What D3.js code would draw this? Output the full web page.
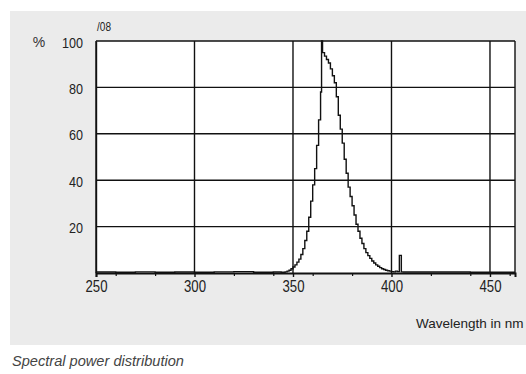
<!DOCTYPE html>
<html><head><meta charset="utf-8">
<script src="https://cdn.jsdelivr.net/npm/d3@7"></script>
<style>
html,body{margin:0;padding:0;background:#fff;}
svg{display:block;}
</style></head>
<body>
<svg id="chart" width="526" height="374"></svg>
<script>
// ---- data ----
const wavelengths = [250,260,270,280,290,300,310,320,330,340,344,
  345,346,347,348,349,350,351,352,353,354,355,356,357,358,359,360,361,362,363,364,364.5,
  365,366,367,368,369,370,371,372,373,374,375,376,377,378,379,380,381,382,383,384,385,
  386,387,388,389,390,391,392,393,394,395,396,397,398,399,400,401,402,403,404,405,406,420,440,462.7];
const intensity = [0.4,0.3,0.5,0.3,0.4,0.3,0.5,0.6,0.3,0.4,0.3,
  0.3,0.5,0.8,1.2,1.8,2.6,3.5,4.7,6.0,8.0,10.5,14,18,24,31,38,45,55,66,78,100,
  95,93.5,92,90.5,88,85,82,76,68,62,56,49,43,37,33,29,25,21,18,15,12.7,
  10.5,8.8,7.5,6.3,5.2,4.3,3.5,2.9,2.3,1.8,1.5,1.2,1.0,0.8,0.6,0.5,0.8,0.6,7.6,0.5,0.4,0.4,0.3,0.3];
const xTicks = [250,300,350,400,450];
const xMinorTicks = [260,280,320,340,360,380,420,440,460];
const yTicks = [20,40,60,80,100];
const xDomain = [250,462.7];
const yDomain = [0,100];

(function(){
const svg = d3.select("#chart");
const pL = 96, pR = 515, pT = 41, pB = 273;
const x = d3.scaleLinear().domain(xDomain).range([pL,pR]);
const y = d3.scaleLinear().domain(yDomain).range([pB,pT]);
const font = "'Liberation Sans',Arial,sans-serif";

svg.append("rect").attr("x",10).attr("y",11).attr("width",516).attr("height",334).attr("fill","#ebebeb");
svg.append("rect").attr("x",pL).attr("y",pT).attr("width",pR-pL).attr("height",pB-pT).attr("fill","#fff");

const g = svg.append("g");
g.selectAll("line.h").data(yTicks).enter().append("line")
  .attr("x1",pL).attr("x2",pR).attr("y1",d=>y(d)).attr("y2",d=>y(d))
  .attr("stroke","#111").attr("stroke-width",1.4);
g.selectAll("line.v").data(xTicks.concat([xDomain[1]])).enter().append("line")
  .attr("x1",d=>x(d)).attr("x2",d=>x(d)).attr("y1",pT).attr("y2",pB)
  .attr("stroke","#111").attr("stroke-width",1.4);

const xAxis = d3.axisBottom(x).tickValues(xTicks).tickSize(4).tickFormat(d3.format("d"));
const ax = svg.append("g").attr("transform",`translate(0,${pB})`).call(xAxis);
ax.select(".domain").attr("stroke","#111").attr("stroke-width",2);
ax.selectAll(".tick line").attr("stroke","#111").attr("stroke-width",1.4);
ax.selectAll(".tick text").attr("font-family",font).attr("font-size",17).attr("fill","#222")
  .attr("dy","0.55em").attr("y",10).attr("textLength",22).attr("lengthAdjust","spacingAndGlyphs");
svg.append("g").attr("transform",`translate(0,${pB})`)
  .call(d3.axisBottom(x).tickValues(xMinorTicks).tickSize(3).tickFormat(""))
  .call(s=>{s.select(".domain").remove(); s.selectAll(".tick line").attr("stroke","#111").attr("stroke-width",1.2);});

const yAxis = d3.axisLeft(y).tickValues(yTicks).tickSize(0).tickPadding(13).tickFormat(d3.format("d"));
const ay = svg.append("g").attr("transform",`translate(${pL},0)`).call(yAxis);
ay.select(".domain").attr("stroke","#111").attr("stroke-width",1.4);
ay.selectAll(".tick text").attr("font-family",font).attr("font-size",15).attr("fill","#222").attr("dy","0.4em")
  .attr("textLength",d=>String(d).length*7).attr("lengthAdjust","spacingAndGlyphs");

const data = wavelengths.map((w,i)=>({w, v:intensity[i]}));
const line = d3.line().x(d=>x(d.w)).y(d=>y(d.v)).curve(d3.curveStepAfter);
svg.append("path").datum(data).attr("d",line).attr("fill","none").attr("stroke","#111").attr("stroke-width",1.4);

svg.append("text").attr("x",39).attr("y",y(100)).attr("dy","0.4em").attr("text-anchor","middle")
  .attr("font-family",font).attr("font-size",14).attr("fill","#333").text("%");
svg.append("text").attr("x",97).attr("y",31).attr("font-family",font).attr("font-size",13)
  .attr("fill","#222").attr("textLength",14).attr("lengthAdjust","spacingAndGlyphs").text("/08");
svg.append("text").attr("x",416).attr("y",328).attr("font-family",font).attr("font-size",13.5)
  .attr("fill","#222").text("Wavelength in nm");
svg.append("text").attr("x",12).attr("y",366).attr("font-family",font).attr("font-size",14)
  .attr("font-style","italic").attr("fill","#444").attr("textLength",172).attr("lengthAdjust","spacingAndGlyphs")
  .text("Spectral power distribution");
})();
</script>
</body></html>
